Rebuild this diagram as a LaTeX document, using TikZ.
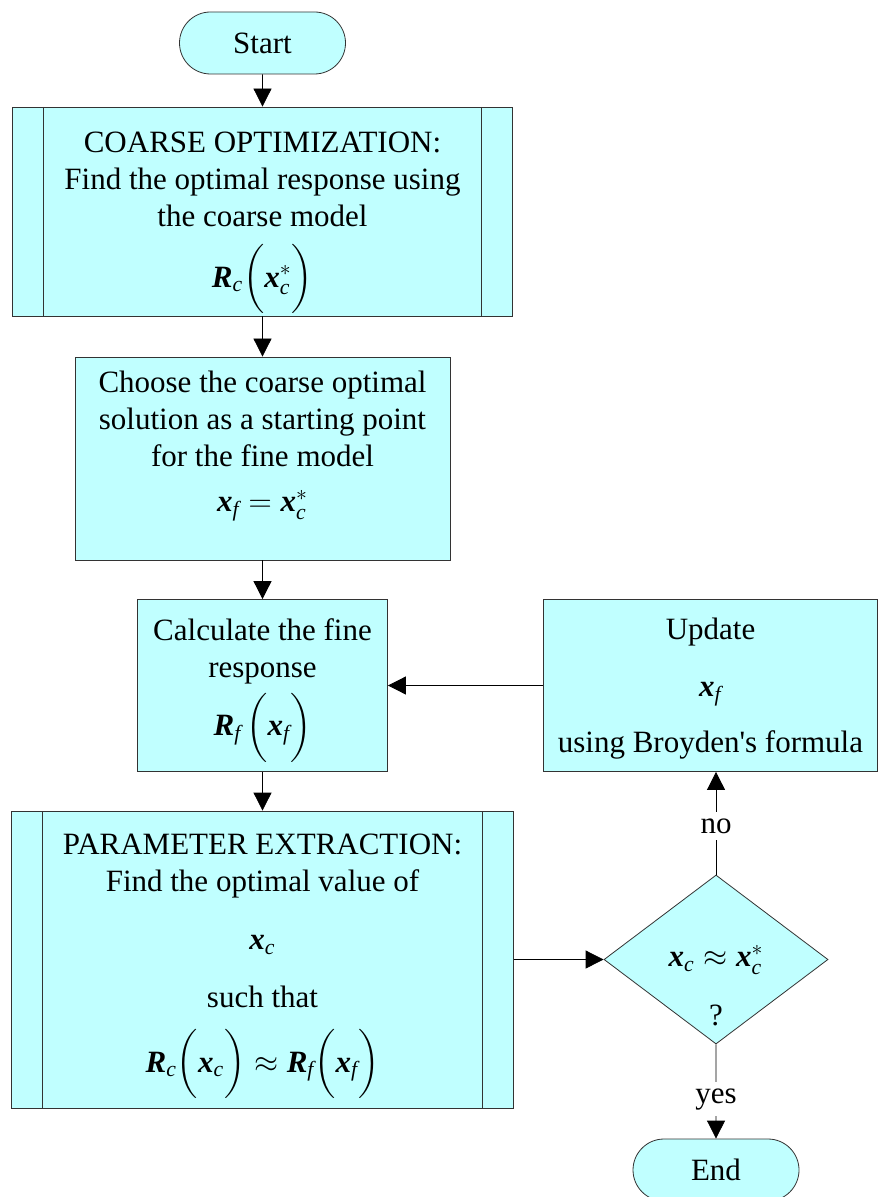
\RequirePackage{fix-cm}
\documentclass[tikz,border=0pt]{standalone}
\usepackage{amsmath}
\usepackage{fontspec}
\setmainfont{Liberation Serif}[Ligatures=TeXOff]
\usetikzlibrary{arrows.meta,shapes.geometric,shapes.misc}

\definecolor{boxfill}{RGB}{192,255,255}
\newcommand{\bvec}[1]{\text{\bfseries\itshape #1}}
\newcommand{\ix}[1]{\text{\itshape #1}}

\begin{document}
\begin{tikzpicture}[x=0.5pt, y=-0.5pt]
\tikzset{ >={Triangle[length=9pt,width=9pt]},
  every node/.style={font=\fontsize{15.5}{18.5}\selectfont},
  block/.style={draw=black!80, fill=boxfill, align=center, inner sep=0pt},
  subproc/.style={block, path picture={
    \draw [black!80] ([xshift=15.5pt]path picture bounding box.north west) -- ([xshift=15.5pt]path picture bounding box.south west)
                     ([xshift=-15.5pt]path picture bounding box.north east) -- ([xshift=-15.5pt]path picture bounding box.south east);}},
  terminal/.style={draw=black!80, fill=boxfill, rounded rectangle, minimum width=83pt, minimum height=31pt, inner sep=0pt},
  decision/.style={draw=black!80, fill=boxfill, diamond, minimum width=112pt, minimum height=84.5pt, inner sep=0pt},
}

\useasboundingbox (0,0) rectangle (878,1197);

%\draw [lightgray, dashed] (0,0) grid[step=50] (878,1197);

\node [terminal] (start) at (262.5,43) {Start};

\node [subproc, minimum width=250pt, minimum height=104.5pt, text depth=2pt] (coarse) at (262.5,211.5)
  {COARSE OPTIMIZATION:\\ Find the optimal response using\\ the coarse model\\[6.75pt]
   $\bvec{R}_{\ix{c}}\biggl(\bvec{x}^{*}_{\ix{c}}\biggr)$};

\node [block, minimum width=187.5pt, minimum height=101.5pt, text depth=17pt] (choose) at (262.5,458.5)
  {Choose the coarse optimal\\ solution as a starting point\\ for the fine model\\[4pt]
   $\bvec{x}_{\ix{f}} = \bvec{x}^{*}_{\ix{c}}$};

\node [block, minimum width=125pt, minimum height=86pt, text depth=8.3pt] (fine) at (262.5,685.5)
  {Calculate the fine\\ response\\[2pt]
   $\bvec{R}_{\ix{f}}\,\biggl(\bvec{x}_{\ix{f}}\biggr)$};

\node [block, minimum width=167pt, minimum height=86pt, text depth=0.4pt] (update) at (710.5,685.5)
  {Update\\[10pt] $\bvec{x}_{\ix{f}}$\\[9.5pt] using Broyden's formula};

\node [subproc, minimum width=251pt, minimum height=148.5pt, text depth=6.35pt] (extract) at (262.5,959.5)
  {PARAMETER EXTRACTION:\\ Find the optimal value of\\[10.5pt]
   $\bvec{x}_{\ix{c}}$\\[10.5pt] such that\\[8.5pt]
   $\bvec{R}_{\ix{c}}\biggl(\bvec{x}_{\ix{c}}\biggr)\approx\bvec{R}_{\ix{f}}\biggl(\bvec{x}_{\ix{f}}\biggr)$};

\node [decision] (check) at (716,959.5) {};
\node (checkeq) at (716,960) {$\bvec{x}_{\ix{c}}\approx\bvec{x}^{*}_{\ix{c}}$};
\node (checkq) at (716,1015) {?};

\node [terminal] (end) at (716,1170) {End};

\draw [->] (start) -- (coarse);
\draw [->] (coarse) -- (choose);
\draw [->] (choose) -- (fine);
\draw [->] (fine) -- (extract);
\draw [->] (update) -- (fine);
\draw [->] (extract) -- (check);
\draw [->] (check.north) -- node [fill=white, pos=0.47] {no} (check.north |- update.south);
\draw [->] (check) -- node [fill=white, pos=0.58] {yes} (end);

\end{tikzpicture}
\end{document}
